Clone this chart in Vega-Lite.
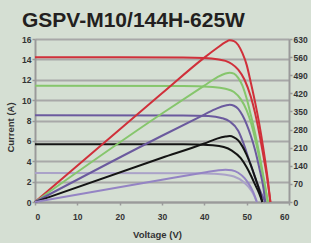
{
  "$schema": "https://vega.github.io/schema/vega-lite/v6.json",
  "width": 254,
  "height": 163,
  "autosize": "none",
  "padding": {"left": 35, "top": 39, "right": 22, "bottom": 41},
  "background": "#d5dfd3",
  "title": {"text": "GSPV-M10/144H-625W", "anchor": "start", "frame": "group", "font": "Liberation Sans", "fontSize": 21, "fontWeight": "bold", "color": "#231f20", "dx": -13, "offset": 4},
  "config": {
    "view": {"stroke": null},
    "axis": {"labelFont": "Liberation Sans", "labelFontWeight": "bold", "labelFontSize": 8.5, "labelColor": "#333333", "titleFont": "Liberation Sans", "titleFontWeight": "bold", "titleFontSize": 9.5, "titleColor": "#333333", "domainColor": "#9a9a9a", "domainWidth": 2, "tickColor": "#9a9a9a", "tickSize": 3, "tickWidth": 1.5}
  },
  "data": {"values": [
    {"s":"I1000","k":"I","v":0,"y":14.2},{"s":"I1000","k":"I","v":20,"y":14.2},{"s":"I1000","k":"I","v":35,"y":14.18},{"s":"I1000","k":"I","v":40,"y":14.13},{"s":"I1000","k":"I","v":43,"y":14.02},{"s":"I1000","k":"I","v":45,"y":13.85},{"s":"I1000","k":"I","v":46.5,"y":13.55},{"s":"I1000","k":"I","v":48,"y":13.0},{"s":"I1000","k":"I","v":49.5,"y":12.0},{"s":"I1000","k":"I","v":51,"y":10.3},{"s":"I1000","k":"I","v":52,"y":8.7},{"s":"I1000","k":"I","v":53,"y":6.7},{"s":"I1000","k":"I","v":54,"y":4.4},{"s":"I1000","k":"I","v":55,"y":1.9},{"s":"I1000","k":"I","v":55.6,"y":0},
    {"s":"P1000","k":"P","v":0,"y":0},{"s":"P1000","k":"P","v":30,"y":420},{"s":"P1000","k":"P","v":40,"y":558},{"s":"P1000","k":"P","v":43,"y":595},{"s":"P1000","k":"P","v":45,"y":618},{"s":"P1000","k":"P","v":46,"y":625},{"s":"P1000","k":"P","v":47,"y":622},{"s":"P1000","k":"P","v":48,"y":607},{"s":"P1000","k":"P","v":49,"y":575},{"s":"P1000","k":"P","v":50,"y":530},{"s":"P1000","k":"P","v":51,"y":460},{"s":"P1000","k":"P","v":52,"y":385},{"s":"P1000","k":"P","v":53,"y":300},{"s":"P1000","k":"P","v":54,"y":200},{"s":"P1000","k":"P","v":55,"y":85},{"s":"P1000","k":"P","v":55.6,"y":0},
    {"s":"I800","k":"I","v":0,"y":11.4},{"s":"I800","k":"I","v":35,"y":11.38},{"s":"I800","k":"I","v":42,"y":11.3},{"s":"I800","k":"I","v":45,"y":11.12},{"s":"I800","k":"I","v":47,"y":10.8},{"s":"I800","k":"I","v":48.6,"y":10.1},{"s":"I800","k":"I","v":50,"y":9.0},{"s":"I800","k":"I","v":51,"y":7.8},{"s":"I800","k":"I","v":52,"y":6.2},{"s":"I800","k":"I","v":53,"y":4.3},{"s":"I800","k":"I","v":54,"y":2.2},{"s":"I800","k":"I","v":55,"y":0},
    {"s":"P800","k":"P","v":0,"y":0},{"s":"P800","k":"P","v":30,"y":342},{"s":"P800","k":"P","v":40,"y":450},{"s":"P800","k":"P","v":43,"y":482},{"s":"P800","k":"P","v":45,"y":497},{"s":"P800","k":"P","v":46,"y":500},{"s":"P800","k":"P","v":47,"y":496},{"s":"P800","k":"P","v":48,"y":480},{"s":"P800","k":"P","v":49,"y":450},{"s":"P800","k":"P","v":50,"y":400},{"s":"P800","k":"P","v":51,"y":335},{"s":"P800","k":"P","v":52,"y":265},{"s":"P800","k":"P","v":53,"y":185},{"s":"P800","k":"P","v":54,"y":95},{"s":"P800","k":"P","v":55,"y":0},
    {"s":"I600","k":"I","v":0,"y":8.52},{"s":"I600","k":"I","v":35,"y":8.5},{"s":"I600","k":"I","v":41,"y":8.44},{"s":"I600","k":"I","v":44,"y":8.25},{"s":"I600","k":"I","v":46,"y":7.9},{"s":"I600","k":"I","v":48,"y":7.0},{"s":"I600","k":"I","v":49.3,"y":5.7},{"s":"I600","k":"I","v":50.5,"y":4.2},{"s":"I600","k":"I","v":51.5,"y":3.0},{"s":"I600","k":"I","v":52.5,"y":1.8},{"s":"I600","k":"I","v":53.5,"y":0.8},{"s":"I600","k":"I","v":54.4,"y":0},
    {"s":"P600","k":"P","v":0,"y":0},{"s":"P600","k":"P","v":30,"y":256},{"s":"P600","k":"P","v":40,"y":338},{"s":"P600","k":"P","v":43,"y":362},{"s":"P600","k":"P","v":45,"y":373},{"s":"P600","k":"P","v":46,"y":376},{"s":"P600","k":"P","v":47,"y":372},{"s":"P600","k":"P","v":48,"y":360},{"s":"P600","k":"P","v":49,"y":335},{"s":"P600","k":"P","v":50,"y":300},{"s":"P600","k":"P","v":51,"y":255},{"s":"P600","k":"P","v":52,"y":200},{"s":"P600","k":"P","v":53,"y":130},{"s":"P600","k":"P","v":54,"y":50},{"s":"P600","k":"P","v":54.4,"y":0},
    {"s":"I400","k":"I","v":0,"y":5.68},{"s":"I400","k":"I","v":35,"y":5.66},{"s":"I400","k":"I","v":42,"y":5.56},{"s":"I400","k":"I","v":44.6,"y":5.4},{"s":"I400","k":"I","v":46.5,"y":5.05},{"s":"I400","k":"I","v":48.6,"y":4.3},{"s":"I400","k":"I","v":50,"y":3.4},{"s":"I400","k":"I","v":51,"y":2.6},{"s":"I400","k":"I","v":52,"y":1.7},{"s":"I400","k":"I","v":53,"y":0.8},{"s":"I400","k":"I","v":53.7,"y":0},
    {"s":"P400","k":"P","v":0,"y":0},{"s":"P400","k":"P","v":30,"y":171},{"s":"P400","k":"P","v":40,"y":226},{"s":"P400","k":"P","v":43,"y":245},{"s":"P400","k":"P","v":45,"y":253},{"s":"P400","k":"P","v":46,"y":255},{"s":"P400","k":"P","v":47,"y":250},{"s":"P400","k":"P","v":48,"y":238},{"s":"P400","k":"P","v":49,"y":215},{"s":"P400","k":"P","v":50,"y":182},{"s":"P400","k":"P","v":51,"y":142},{"s":"P400","k":"P","v":52,"y":95},{"s":"P400","k":"P","v":53,"y":45},{"s":"P400","k":"P","v":53.7,"y":0},
    {"s":"I200","k":"I","v":0,"y":2.84},{"s":"I200","k":"I","v":38,"y":2.82},{"s":"I200","k":"I","v":42,"y":2.78},{"s":"I200","k":"I","v":45,"y":2.68},{"s":"I200","k":"I","v":47,"y":2.5},{"s":"I200","k":"I","v":49,"y":2.05},{"s":"I200","k":"I","v":50.5,"y":1.45},{"s":"I200","k":"I","v":51.5,"y":0.85},{"s":"I200","k":"I","v":52.4,"y":0},
    {"s":"P200","k":"P","v":0,"y":0},{"s":"P200","k":"P","v":30,"y":86},{"s":"P200","k":"P","v":40,"y":114},{"s":"P200","k":"P","v":43,"y":122},{"s":"P200","k":"P","v":45,"y":125},{"s":"P200","k":"P","v":46.5,"y":123},{"s":"P200","k":"P","v":48,"y":113},{"s":"P200","k":"P","v":49.5,"y":92},{"s":"P200","k":"P","v":50.5,"y":70},{"s":"P200","k":"P","v":51.5,"y":40},{"s":"P200","k":"P","v":52.4,"y":0}
  ]},
  "layer": [
    {
      "transform": [{"filter": "datum.k == 'I'"}],
      "mark": {"type": "line", "strokeWidth": 2, "interpolate": "monotone"},
      "encoding": {
        "x": {"field": "v", "type": "quantitative", "scale": {"domain": [0, 60], "nice": false},
              "axis": {"title": "Voltage (V)", "values": [0,5,10,15,20,25,30,35,40,45,50,55,60], "grid": false, "labelPadding": 7, "titlePadding": 9, "titleX": 122}},
        "y": {"field": "y", "type": "quantitative", "scale": {"domain": [0, 16], "nice": false},
              "axis": {"title": "Current (A)", "values": [0,2,4,6,8,10,12,14,16], "grid": true, "gridColor": "#a8a8a8", "gridWidth": 2, "labelPadding": 1, "titlePadding": 6, "titleY": 88}},
        "color": {"field": "s", "type": "nominal", "legend": null,
                  "scale": {"domain": ["I1000","P1000","I800","P800","I600","P600","I400","P400","I200","P200"],
                            "range": ["#d0303a","#d0303a","#86c66c","#86c66c","#6b5a9e","#6b5a9e","#141414","#141414","#aaa2c8","#9484c4"]}}
      }
    },
    {
      "transform": [{"filter": "datum.k == 'P'"}],
      "mark": {"type": "line", "strokeWidth": 2, "interpolate": "monotone"},
      "encoding": {
        "x": {"field": "v", "type": "quantitative"},
        "y": {"field": "y", "type": "quantitative", "scale": {"domain": [0, 630], "nice": false},
              "axis": {"orient": "right", "title": null, "values": [0,70,140,210,280,350,420,490,560,630], "grid": false, "labelPadding": 1}},
        "color": {"field": "s", "type": "nominal", "legend": null}
      }
    }
  ],
  "resolve": {"scale": {"y": "independent"}}
}
